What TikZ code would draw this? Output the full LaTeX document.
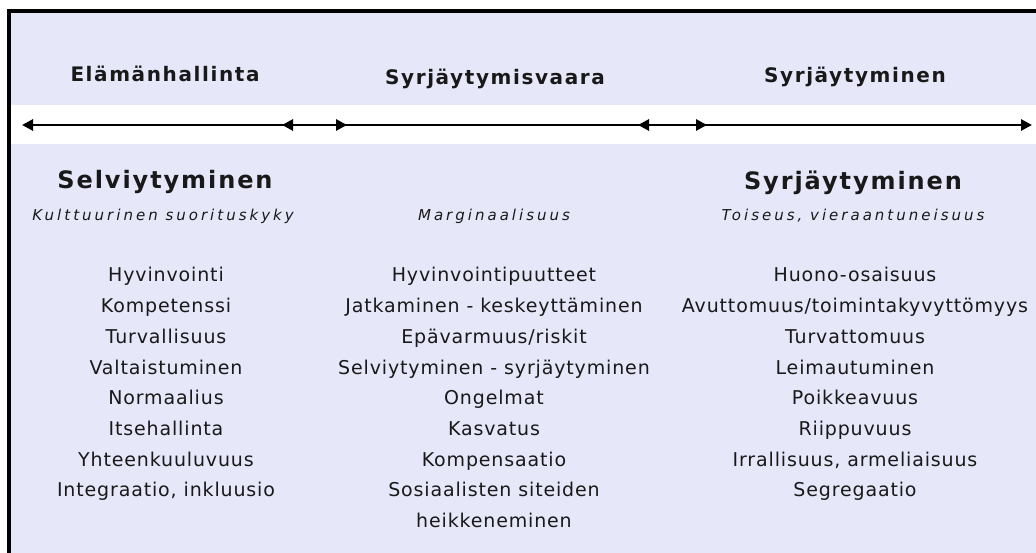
\documentclass[tikz,border=0pt]{standalone}
\usepackage{fontspec}
\setmainfont{DejaVu Sans}
\newfontfamily\otsikkofont[LetterSpace=8]{DejaVu Sans}
\newfontfamily\nimifont[LetterSpace=8]{DejaVu Sans}
\newfontfamily\alafont[LetterSpace=20]{DejaVu Sans}
\newfontfamily\listafont[LetterSpace=4.5]{DejaVu Sans}
\usetikzlibrary{arrows.meta}
\definecolor{laventeli}{RGB}{230,232,250}
\definecolor{teksti}{RGB}{25,25,25}
\tikzset{
  otsikko/.style={anchor=base, inner sep=0pt, text=teksti, font=\otsikkofont\bfseries\fontsize{20}{22}\selectfont},
  nimi/.style={anchor=base, inner sep=0pt, text=teksti, font=\nimifont\bfseries\fontsize{24}{26}\selectfont},
  alanimi/.style={anchor=base, inner sep=0pt, text=teksti, font=\alafont\itshape\fontsize{15}{17}\selectfont},
  lista/.style={anchor=base, inner sep=0pt, text=teksti, font=\listafont\fontsize{19}{22}\selectfont},
  nuoli/.style={line width=2.8pt, {Triangle[length=11pt,width=11pt]}-{Triangle[length=11pt,width=11pt]}}
}
\begin{document}
\begin{tikzpicture}[x=1pt,y=-1pt]
  % Sarakkeiden keskikohdat ja rivit
  \def\xone{166}
  \def\xtwo{494}
  \def\xthree{855}
  \def\ystep{30.7}
  \useasboundingbox (0,0) rectangle (1036,553);
  % Tausta ja kehys
  \fill[laventeli] (10.7,13.3) rectangle (1036,105);
  \fill[laventeli] (10.7,144) rectangle (1036,553);
  \draw[black, line width=4pt, line join=miter] (8.7,553) -- (8.7,11.3) -- (1036,11.3);
  % Janan pisteet
  \coordinate (a1) at (22,125);
  \coordinate (a2) at (347,125);
  \coordinate (b1) at (282,125);
  \coordinate (b2) at (707,125);
  \coordinate (c1) at (638,125);
  \coordinate (c2) at (1032,125);
  \draw[nuoli] (a1) -- (a2);
  \draw[nuoli] (b1) -- (b2);
  \draw[nuoli] (c1) -- (c2);
  % Yläotsikot
  \node[otsikko] (h1) at (\xone-1,82) {Elämänhallinta};
  \node[otsikko] (h2) at (\xtwo+1,85) {Syrjäytymisvaara};
  \node[otsikko] (h3) at (\xthree,83) {Syrjäytyminen};
  % Sarakkeiden nimet
  \node[nimi] (n1) at (\xone-1,189) {Selviytyminen};
  \node[alanimi] (s1) at (\xone-3,221) {Kulttuurinen suorituskyky};
  \node[alanimi] (s2) at (\xtwo,221) {Marginaalisuus};
  \node[nimi] (n3) at (\xthree-2,190) {Syrjäytyminen};
  \node[alanimi] (s3) at (\xthree-2,221) {Toiseus, vieraantuneisuus};
  % Vasen sarake
  \node[lista] (v1) at (\xone,282) {Hyvinvointi};
  \node[lista] (v2) at (\xone,282+\ystep) {Kompetenssi};
  \node[lista] (v3) at (\xone,282+2*\ystep) {Turvallisuus};
  \node[lista] (v4) at (\xone,282+3*\ystep) {Valtaistuminen};
  \node[lista] (v5) at (\xone,282+4*\ystep) {Normaalius};
  \node[lista] (v6) at (\xone,282+5*\ystep) {Itsehallinta};
  \node[lista] (v7) at (\xone,282+6*\ystep) {Yhteenkuuluvuus};
  \node[lista] (v8) at (\xone,282+7*\ystep) {Integraatio, inkluusio};
  % Keskisarake
  \node[lista] (k1) at (\xtwo,282) {Hyvinvointipuutteet};
  \node[lista] (k2) at (\xtwo,282+\ystep) {Jatkaminen - keskeyttäminen};
  \node[lista] (k3) at (\xtwo,282+2*\ystep) {Epävarmuus/riskit};
  \node[lista] (k4) at (\xtwo,282+3*\ystep) {Selviytyminen - syrjäytyminen};
  \node[lista] (k5) at (\xtwo,282+4*\ystep) {Ongelmat};
  \node[lista] (k6) at (\xtwo,282+5*\ystep) {Kasvatus};
  \node[lista] (k7) at (\xtwo,282+6*\ystep) {Kompensaatio};
  \node[lista] (k8) at (\xtwo,282+7*\ystep) {Sosiaalisten siteiden};
  \node[lista] (k9) at (\xtwo,282+8*\ystep) {heikkeneminen};
  % Oikea sarake
  \node[lista] (o1) at (\xthree,282) {Huono-osaisuus};
  \node[lista] (o2) at (\xthree,282+\ystep) {Avuttomuus/toimintakyvyttömyys};
  \node[lista] (o3) at (\xthree,282+2*\ystep) {Turvattomuus};
  \node[lista] (o4) at (\xthree,282+3*\ystep) {Leimautuminen};
  \node[lista] (o5) at (\xthree,282+4*\ystep) {Poikkeavuus};
  \node[lista] (o6) at (\xthree,282+5*\ystep) {Riippuvuus};
  \node[lista] (o7) at (\xthree,282+6*\ystep) {Irrallisuus, armeliaisuus};
  \node[lista] (o8) at (\xthree,282+7*\ystep) {Segregaatio};
\end{tikzpicture}
\end{document}
